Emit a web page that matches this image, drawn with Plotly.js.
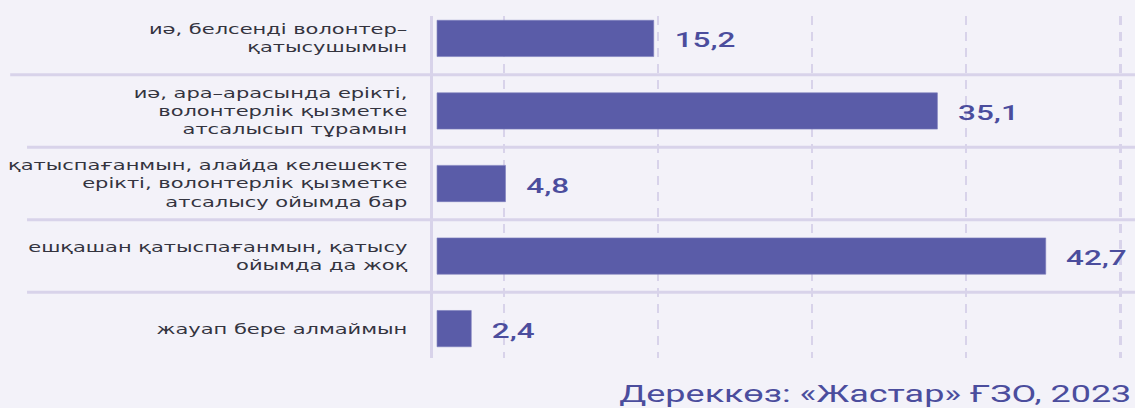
<!DOCTYPE html>
<html>
<head>
<meta charset="utf-8">
<script src="https://cdn.plot.ly/plotly-3.0.1.min.js"></script>
<style>
  html, body { margin: 0; padding: 0; background: #f3f2f9; overflow: hidden; }
  #wrap { width: 1135px; height: 408px; overflow: hidden; }
  #chart { width: 757px; height: 408px; transform: scaleX(1.4993); transform-origin: 0 0; }
</style>
</head>
<body>
<div id="wrap"><div id="chart"></div></div>
<script>
// ---- data ----
const categories = [
  'иә, белсенді волонтер–қатысушымын',
  'иә, ара–арасында ерікті, волонтерлік қызметке атсалысып тұрамын',
  'қатыспағанмын, алайда келешекте ерікті, волонтерлік қызметке атсалысу ойымда бар',
  'ешқашан қатыспағанмын, қатысу ойымда да жоқ',
  'жауап бере алмаймын'
];
const tickLabels = [
  'иә, белсенді волонтер–<br>қатысушымын',
  'иә, ара–арасында ерікті,<br>волонтерлік қызметке<br>атсалысып тұрамын',
  'қатыспағанмын, алайда келешекте<br>ерікті, волонтерлік қызметке<br>атсалысу ойымда бар',
  'ешқашан қатыспағанмын, қатысу<br>ойымда да жоқ',
  'жауап бере алмаймын'
];
const values = [15.2, 35.1, 4.8, 42.7, 2.4];
const sourceText = 'Дереккөз: «Жастар» ҒЗО, 2023';

// ---- styles ----
const BAR = '#5a5ca8';
const LINE = '#d8d3ea';
const TXT = '#34343f';
const VAL = '#4b4d9d';

const fmt = v => v.toFixed(1).replace('.', ',');

const trace = {
  type: 'bar',
  orientation: 'h',
  x: values,
  y: categories,
  width: 0.5,
  marker: { color: BAR, line: { color: '#7c7ebd', width: 0.5 } },
  hoverinfo: 'skip'
};

const annotations = values.map((v, i) => ({
  x: v, y: categories[i], xref: 'x', yref: 'y',
  text: fmt(v), showarrow: false, xanchor: 'left', yanchor: 'middle',
  xshift: 12, yshift: -2,
  font: { family: 'Roboto, sans-serif', size: 21, weight: 500, color: VAL }
}));
annotations.push({
  xref: 'paper', yref: 'paper', x: 1, y: -0.105,
  xanchor: 'right', yanchor: 'middle', showarrow: false,
  text: sourceText,
  font: { family: 'Roboto, sans-serif', size: 24, color: VAL }
});

const shapes = categories.slice(0, -1).map((c, i) => ({
  type: 'line', layer: 'below',
  xref: 'paper', yref: 'y',
  x0: i === 0 ? -0.603 : -0.579, x1: 1,
  y0: i + 0.5, y1: i + 0.5,
  line: { color: LINE, width: 3 }
}));

const layout = {
  width: 757, height: 408,
  margin: { l: 289, r: 0, t: 16, b: 50, pad: 0 },
  paper_bgcolor: '#f3f2f9',
  plot_bgcolor: '#f3f2f9',
  showlegend: false,
  bargap: 0,
  xaxis: {
    range: [-0.263, 48.96],
    tick0: 4.68, dtick: 10.815,
    showgrid: true, gridcolor: LINE, gridwidth: 1.6, griddash: '9px,7px',
    showticklabels: false, ticks: '', zeroline: false, showline: false,
    fixedrange: true
  },
  yaxis: {
    type: 'category',
    categoryorder: 'array', categoryarray: categories,
    range: [4.405, -0.309],
    tickvals: categories, ticktext: tickLabels,
    ticks: '', ticklabelstandoff: 12,
    tickfont: { family: 'DejaVu Sans, sans-serif', size: 14, color: TXT },
    showgrid: false, zeroline: false,
    showline: true, linecolor: LINE, linewidth: 2.5,
    fixedrange: true
  },
  annotations: annotations,
  shapes: shapes
};

Plotly.newPlot('chart', [trace], layout, { displayModeBar: false, staticPlot: true });
</script>
</body>
</html>
